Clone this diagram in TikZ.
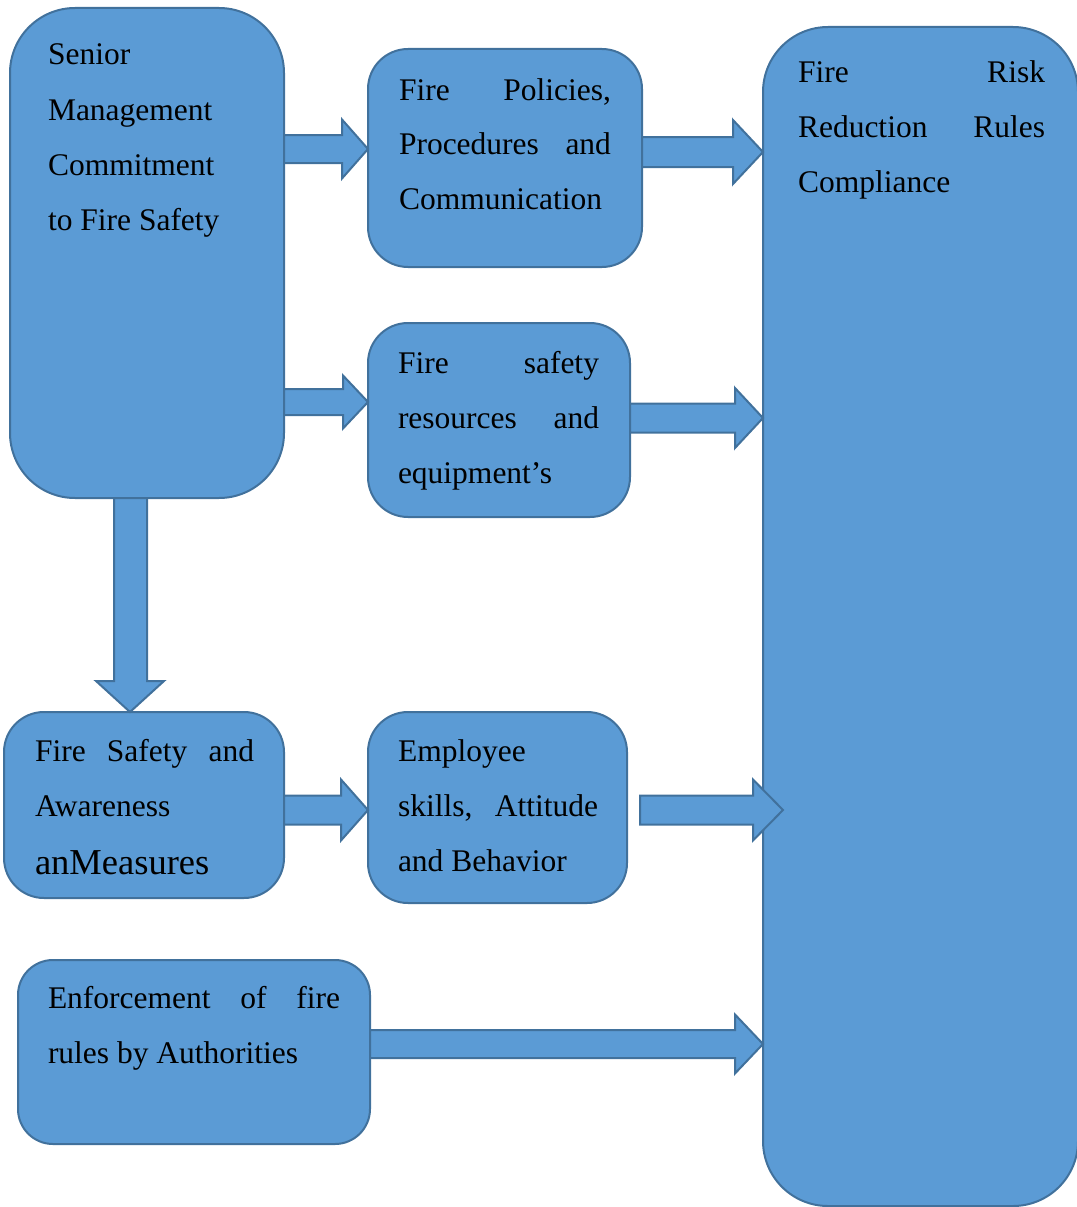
\documentclass[tikz,border=0pt]{standalone}
\usepackage{fontspec}
\setmainfont{Liberation Serif}
\definecolor{boxfill}{HTML}{5B9BD5}
\definecolor{boxline}{HTML}{41719C}
\tikzset{
  box/.style={draw=boxline, fill=boxfill, line width=2pt, anchor=north west, inner sep=0pt, outer sep=0pt},
  blk/.style={draw=boxline, fill=boxfill, line width=2pt, line join=miter},
  txt/.style={anchor=base west, inner sep=0pt, outer sep=0pt, align=left, font=\fontsize{31.5}{37}\selectfont},
}
% horizontal block arrow: #1 start, #2 tip, #3 head x, #4 y, #5 shaft half, #6 head half
\newcommand\harr[6]{%
  \draw[blk] (#1 |- 0,{-#4+#5}) -- (#3,{-#4+#5}) -- (#3,{-#4+#6}) -- (#2 |- 0,-#4)
     -- (#3,{-#4-#6}) -- (#3,{-#4-#5}) -- (#1 |- 0,{-#4-#5}) -- cycle;}
\begin{document}
\begin{tikzpicture}[x=1pt,y=1pt]
\useasboundingbox (0,0) rectangle (1076,-1207);
% boxes
\node[box, rounded corners=65pt, minimum width=274pt, minimum height=490pt] (A) at (10,-8) {};
\node[box, rounded corners=40pt, minimum width=274pt, minimum height=218pt] (B) at (368,-49) {};
\node[box, rounded corners=40pt, minimum width=262pt, minimum height=194pt] (C) at (368,-323) {};
\node[box, rounded corners=65pt, minimum width=315pt, minimum height=1179pt] (R) at (763,-27) {};
\node[box, rounded corners=40pt, minimum width=280pt, minimum height=186pt] (D) at (4,-712) {};
\node[box, rounded corners=40pt, minimum width=259pt, minimum height=191pt] (E) at (368,-712) {};
\node[box, rounded corners=35pt, minimum width=352pt, minimum height=184pt] (F) at (18,-960) {};
% arrows
\harr{A.east}{B.west}{342}{149}{14}{29.5}
\harr{B.east}{R.west}{733}{152}{15}{32}
\harr{A.east}{C.west}{343}{402}{13}{26.5}
\harr{C.east}{R.west}{735}{418}{14.5}{30}
\harr{D.east}{E.west}{341}{810}{14.5}{30.5}
\coordinate (es) at (640,-810);
\coordinate (et) at (783,-810);
\harr{es}{et}{753}{810}{14.5}{30.5}
\harr{F.east}{R.west}{735}{1044}{14}{29.5}
\draw[blk] (A.south -| 114,0) -- (114,-681) -- (96,-681) -- (D.north -| 130,0)
   -- (164,-681) -- (147,-681) -- (A.south -| 147,0) -- cycle;
% texts
\node[txt] (a1) at (48,-65) {Senior};
\node[txt] (a2) at (48,-120) {Management};
\node[txt] (a3) at (48,-175) {Commitment};
\node[txt] (a4) at (48,-230) {to Fire Safety};
\node[txt, text width=212pt] (b1) at (399,-100) {Fire\hfill Policies,};
\node[txt, text width=212pt] (b2) at (399,-154) {Procedures\hfill and};
\node[txt] (b3) at (399,-209) {Communication};
\node[txt, text width=201pt] (c1) at (398,-373) {Fire\hfill safety};
\node[txt, text width=201pt] (c2) at (398,-428) {resources\hfill and};
\node[txt] (c3) at (398,-483) {equipment’s};
\node[txt, text width=247pt] (r1) at (798,-82) {Fire\hfill Risk};
\node[txt, text width=247pt] (r2) at (798,-137) {Reduction\hfill Rules};
\node[txt] (r3) at (798,-192) {Compliance};
\node[txt, text width=219pt] (d1) at (35,-761) {Fire\hfill Safety\hfill and};
\node[txt] (d2) at (35,-816) {Awareness};
\node[txt, font=\fontsize{36.5}{42}\selectfont] (d3) at (35,-874) {anMeasures};
\node[txt] (e1) at (398,-761) {Employee};
\node[txt, text width=200pt] (e2) at (398,-816) {skills,\hfill Attitude};
\node[txt] (e3) at (398,-871) {and Behavior};
\node[txt, text width=292pt] (f1) at (48,-1008) {Enforcement\hfill of\hfill fire};
\node[txt] (f2) at (48,-1063) {rules by Authorities};
\end{tikzpicture}
\end{document}
